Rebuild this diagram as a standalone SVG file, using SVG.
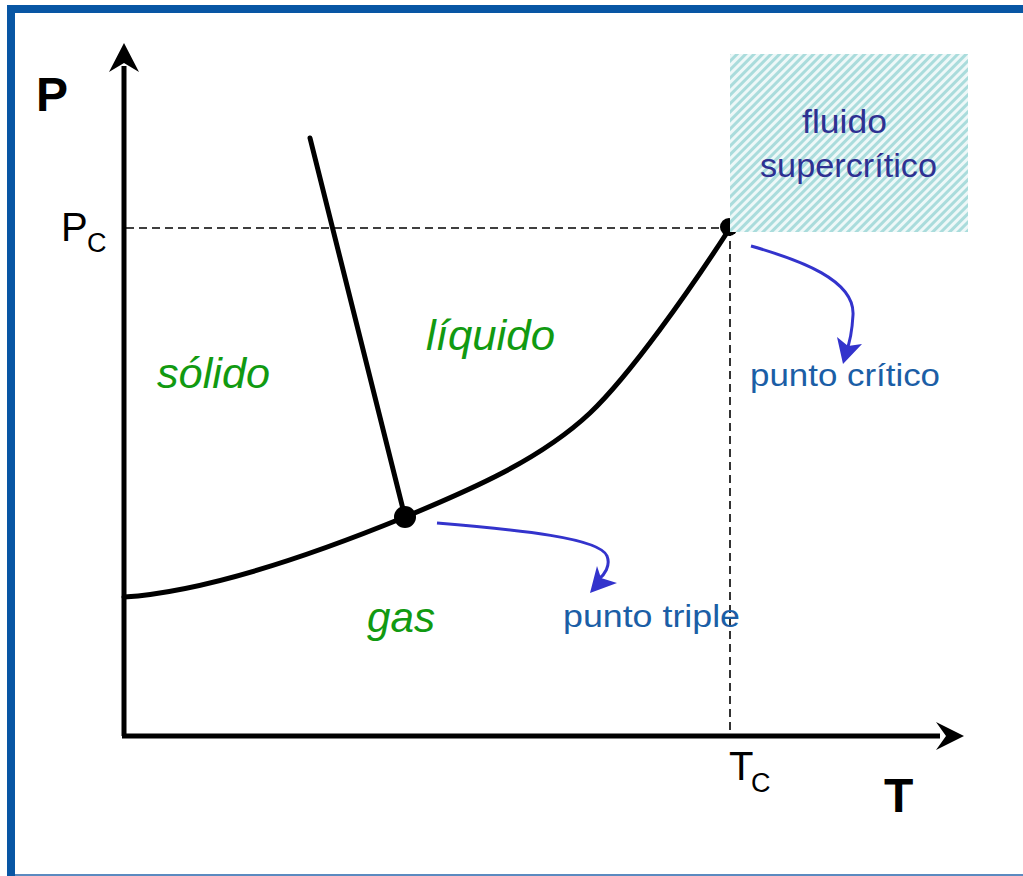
<svg xmlns="http://www.w3.org/2000/svg" width="1023" height="876" viewBox="0 0 1023 876">
<defs>
<pattern id="hatch" patternUnits="userSpaceOnUse" width="6" height="6" patternTransform="rotate(45)">
<rect width="6" height="6" fill="#eef8f8"/>
<rect width="3" height="6" fill="#aadcdc"/>
</pattern>
<style>
.ax{stroke:#000;stroke-width:5;fill:none}
.curve{stroke:#000;stroke-width:5;fill:none;stroke-linecap:round}
.dash{stroke:#000;stroke-width:1.6;stroke-dasharray:8 5;fill:none}
.phase{font-family:"Liberation Sans",Arial,sans-serif;font-style:italic;font-size:42px;fill:#119a11}
.lbl{font-family:"Liberation Sans",Arial,sans-serif;font-size:31px;fill:#1b5ea6}
.sc{font-family:"Liberation Sans",Arial,sans-serif;font-size:33px;fill:#2e3192}
.axl{font-family:"Liberation Sans",Arial,sans-serif;fill:#000}
.barr{stroke:#3333cc;stroke-width:3;fill:none}
</style>
</defs>
<rect width="1023" height="876" fill="#fff"/>
<g id="frame">
<rect x="7" y="5" width="1016" height="8" fill="#0856a4"/>
<rect x="7" y="5" width="8" height="871" fill="#0856a4"/>
<rect x="15" y="874" width="1008" height="2" fill="#5b8ac0"/>
</g>
<g id="connectors">
<line class="dash" x1="126" y1="228" x2="730" y2="228"/>
<line class="dash" x1="730" y1="228" x2="730" y2="734"/>
<path class="ax" d="M124,736 V66"/>
<path class="ax" d="M122,736 H940"/>
<path d="M124,43 L139,72 L124,63 L109,72 Z" fill="#000"/>
<path d="M964,736 L936,750 L946,736 L936,722 Z" fill="#000"/>
<path class="curve" d="M124,597 C200,592 300,560 405,517 C470,490 540,460 590,413 C630,375 690,290 730,228"/>
<path class="curve" d="M310,138 L405,517"/>
<path class="barr" d="M751,246 C800,260 855,280 853,315 C852,333 849,345 846,352"/>
<path d="M843,364 L837,337 L848,346 L862,344 Z" fill="#3333cc"/>
<path class="barr" d="M437,523 C520,530 600,538 607,556 C611,566 604,575 599,579"/>
<path d="M590,593 L597,566 L601,578 L617,583 Z" fill="#3333cc"/>
</g>
<g id="triple-point"><circle cx="405" cy="517" r="11" fill="#000"/></g>
<g id="critical-point"><circle cx="729" cy="227" r="9" fill="#000"/></g>
<g id="supercritical">
<rect x="730" y="54" width="238" height="178" fill="url(#hatch)"/>
<text class="sc" x="802" y="133" textLength="85" lengthAdjust="spacingAndGlyphs">fluido</text>
<text class="sc" x="760" y="177" textLength="177" lengthAdjust="spacingAndGlyphs">supercrítico</text>
</g>
<g id="axis-labels">
<text class="axl" x="36" y="111" font-size="48" font-weight="bold">P</text>
<text class="axl" x="884" y="812" font-size="48" font-weight="bold">T</text>
<text class="axl" x="61" y="241" font-size="40">P</text>
<text class="axl" x="87" y="252" font-size="27">C</text>
<text class="axl" x="729" y="780" font-size="40">T</text>
<text class="axl" x="751" y="792" font-size="27">C</text>
</g>
<g id="phase-labels">
<text class="phase" x="157" y="388" textLength="113" lengthAdjust="spacingAndGlyphs">sólido</text>
<text class="phase" x="426" y="350" textLength="129" lengthAdjust="spacingAndGlyphs">líquido</text>
<text class="phase" x="367" y="632" textLength="68" lengthAdjust="spacingAndGlyphs">gas</text>
</g>
<g id="point-labels">
<text class="lbl" x="750" y="386" textLength="190" lengthAdjust="spacingAndGlyphs">punto crítico</text>
<text class="lbl" x="563" y="627" textLength="177" lengthAdjust="spacingAndGlyphs">punto triple</text>
</g>
</svg>
